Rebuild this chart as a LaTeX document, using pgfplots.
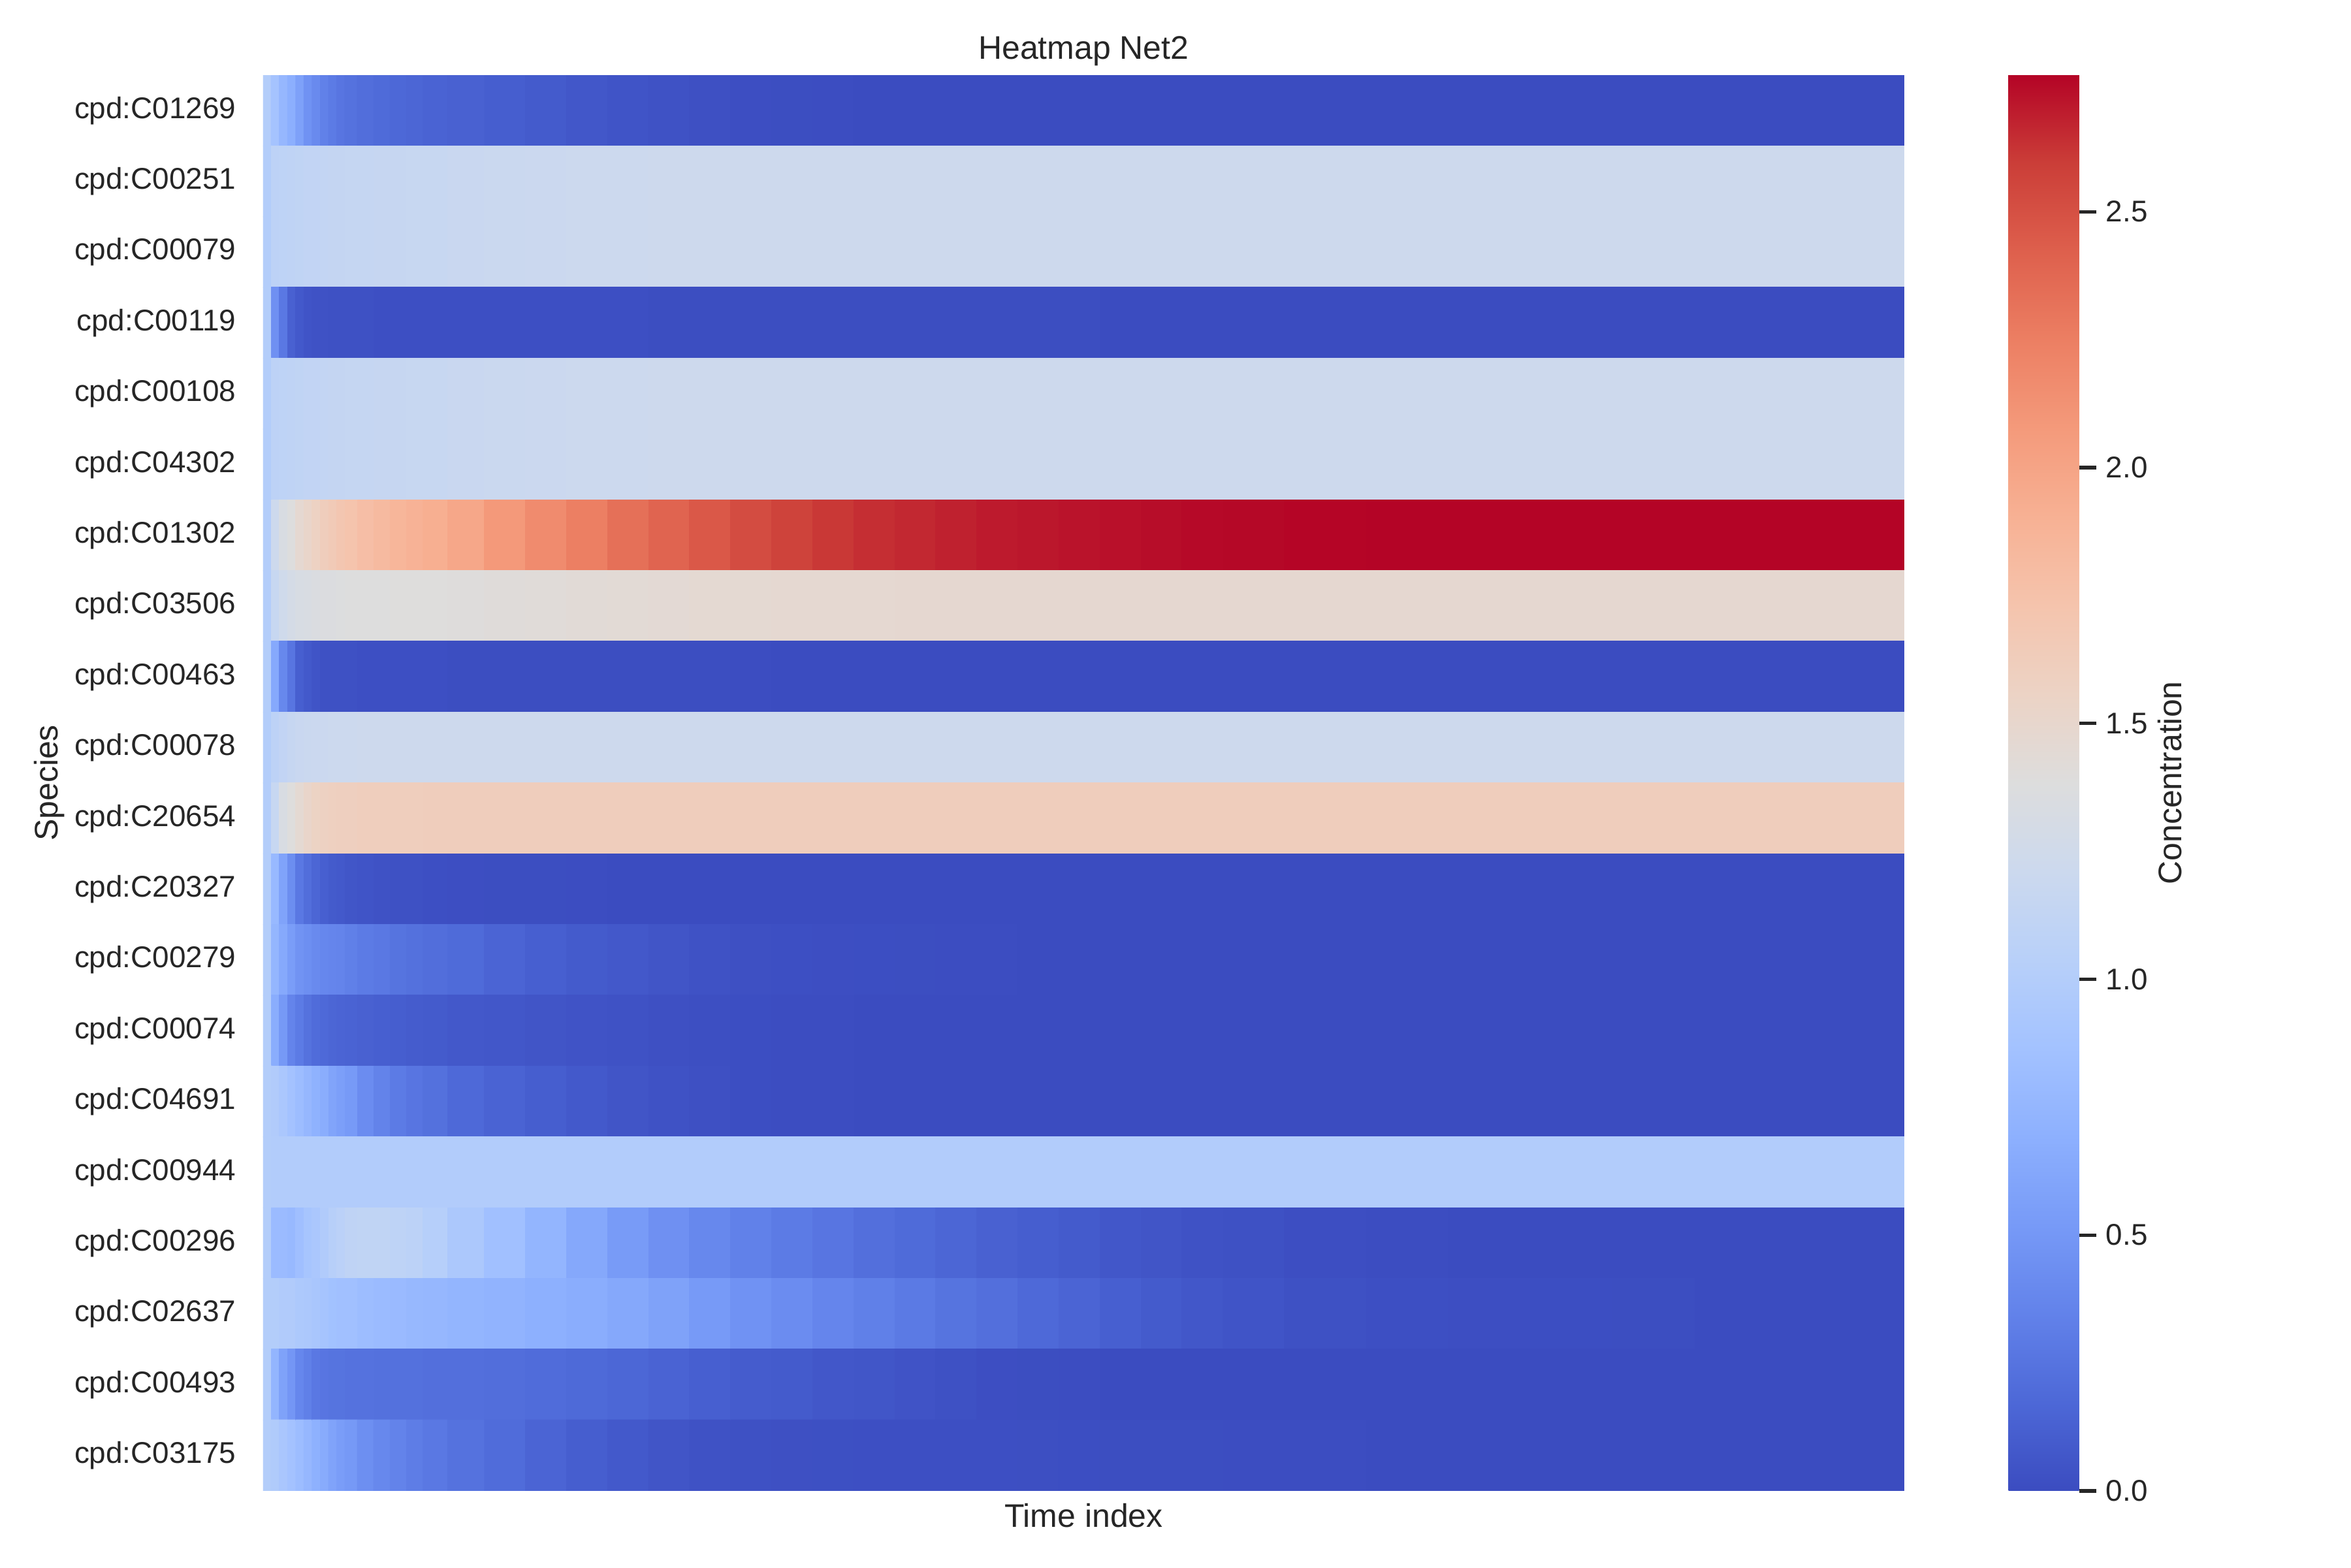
\documentclass[border=0pt]{standalone}
\usepackage{pgfplots}
\pgfplotsset{compat=1.18}
\usepackage{fontspec}
\setmainfont{Liberation Sans}
\definecolor{txt}{HTML}{262626}
\newcommand{\ticksize}{\fontsize{11}{13}\selectfont}
\newcommand{\labsize}{\fontsize{12}{14}\selectfont}
\pgfplotsset{
  colormap={coolwarm}{
    rgb255=(59,76,192) rgb255=(77,104,215) rgb255=(98,130,234) rgb255=(119,154,247)
    rgb255=(141,176,254) rgb255=(163,194,255) rgb255=(184,208,249) rgb255=(204,217,238)
    rgb255=(221,221,221) rgb255=(236,211,197) rgb255=(245,196,173) rgb255=(247,177,148)
    rgb255=(244,154,123) rgb255=(236,127,99) rgb255=(222,96,77) rgb255=(203,62,56)
    rgb255=(180,4,38)
  }
}
\begin{document}
\begin{tikzpicture}
\path[use as bounding box] (0,0) rectangle (864pt,576pt);
\begin{axis}[
  at={(96.7pt,28.1pt)}, anchor=south west,
  scale only axis, width=603.1pt, height=520.3pt,
  xmin=-0.5, xmax=199.5, ymin=-0.5, ymax=19.5,
  y dir=reverse,
  axis line style={draw=none},
  xtick=\empty,
  ytick={0,...,19},
  yticklabels={cpd:C01269,cpd:C00251,cpd:C00079,cpd:C00119,cpd:C00108,cpd:C04302,cpd:C01302,cpd:C03506,cpd:C00463,cpd:C00078,cpd:C20654,cpd:C20327,cpd:C00279,cpd:C00074,cpd:C04691,cpd:C00944,cpd:C00296,cpd:C02637,cpd:C00493,cpd:C03175},
  ytick style={draw=none},
  yticklabel style={anchor=east, inner sep=0pt, xshift=-9.8pt, font=\ticksize, text=txt},
  title={Heatmap Net2},
  title style={anchor=base, inner sep=0pt, font=\labsize, text=txt},
  xlabel={Time index},
  xlabel style={at={(axis description cs:0.5,0)}, anchor=north, inner sep=0pt, yshift=-4.5pt, font=\labsize, text=txt},
  ylabel={Species},
  ylabel style={at={(axis description cs:-0.1303,0.5)}, anchor=center, inner sep=0pt, font=\labsize, text=txt},
  colormap name=coolwarm,
  point meta min=0, point meta max=2.767,
  colorbar,
  colorbar/width=25.9pt,
  colorbar style={
    at={(parent axis.north east)}, anchor=north west, xshift=29.8pt,
    axis line style={draw=none},
    ytick={0,0.5,1,1.5,2,2.5},
    tick align=outside, major tick length=6.24pt,
    ytick style={line width=1.25pt, color=txt},
    ytick pos=right, yticklabel pos=right,
    yticklabel style={font=\ticksize, text=txt, inner sep=0pt, xshift=3.5pt,
      /pgf/number format/.cd, fixed, fixed zerofill, precision=1, assume math mode=true},
    ylabel={Concentration},
    ylabel style={at={(axis description cs:2.29,0.5)}, anchor=center, inner sep=0pt, font=\labsize, text=txt},
  },
]
% column 209 lies outside xmax and only repeats the last value, so that the
% last visible cell is an ordinary one
\addplot[matrix plot*, mesh/cols=45, point meta=explicit] table[row sep=\\, x=x, y=y, meta=c] {
x y c\\
0 0 1.0\\ 1 0 0.88\\ 2 0 0.76\\ 3 0 0.68\\ 4 0 0.57\\ 5 0 0.46\\ 6 0 0.40\\ 7 0 0.34\\ 8 0 0.30\\ 9 0 0.26\\ 10 0 0.24\\ 12 0 0.21\\ 14 0 0.19\\ 16 0 0.17\\ 18 0 0.16\\ 20 0 0.14\\ 24 0 0.13\\ 29 0 0.11\\ 34 0 0.09\\ 39 0 0.07\\ 44 0 0.05\\ 49 0 0.035\\ 54 0 0.025\\ 59 0 0.015\\ 64 0 0.01\\ 69 0 0.005\\ 74 0 0\\ 79 0 0\\ 84 0 0\\ 89 0 0\\ 94 0 0\\ 99 0 0\\ 104 0 0\\ 109 0 0\\ 114 0 0\\ 119 0 0\\ 129 0 0\\ 139 0 0\\ 149 0 0\\ 159 0 0\\ 169 0 0\\ 179 0 0\\ 189 0 0\\ 199 0 0\\ 209 0 0\\
0 1 1.0\\ 1 1 1.08\\ 2 1 1.09\\ 3 1 1.10\\ 4 1 1.11\\ 5 1 1.12\\ 6 1 1.12\\ 7 1 1.13\\ 8 1 1.14\\ 9 1 1.14\\ 10 1 1.15\\ 12 1 1.15\\ 14 1 1.16\\ 16 1 1.16\\ 18 1 1.17\\ 20 1 1.17\\ 24 1 1.18\\ 29 1 1.19\\ 34 1 1.20\\ 39 1 1.21\\ 44 1 1.21\\ 49 1 1.22\\ 54 1 1.22\\ 59 1 1.22\\ 64 1 1.22\\ 69 1 1.22\\ 74 1 1.22\\ 79 1 1.22\\ 84 1 1.22\\ 89 1 1.22\\ 94 1 1.22\\ 99 1 1.22\\ 104 1 1.22\\ 109 1 1.22\\ 114 1 1.22\\ 119 1 1.22\\ 129 1 1.22\\ 139 1 1.22\\ 149 1 1.22\\ 159 1 1.22\\ 169 1 1.22\\ 179 1 1.22\\ 189 1 1.22\\ 199 1 1.22\\ 209 1 1.22\\
0 2 1.0\\ 1 2 1.08\\ 2 2 1.09\\ 3 2 1.10\\ 4 2 1.11\\ 5 2 1.12\\ 6 2 1.12\\ 7 2 1.13\\ 8 2 1.14\\ 9 2 1.14\\ 10 2 1.15\\ 12 2 1.15\\ 14 2 1.16\\ 16 2 1.16\\ 18 2 1.17\\ 20 2 1.17\\ 24 2 1.18\\ 29 2 1.19\\ 34 2 1.20\\ 39 2 1.21\\ 44 2 1.21\\ 49 2 1.22\\ 54 2 1.22\\ 59 2 1.22\\ 64 2 1.22\\ 69 2 1.22\\ 74 2 1.22\\ 79 2 1.22\\ 84 2 1.22\\ 89 2 1.22\\ 94 2 1.22\\ 99 2 1.22\\ 104 2 1.22\\ 109 2 1.22\\ 114 2 1.22\\ 119 2 1.22\\ 129 2 1.22\\ 139 2 1.22\\ 149 2 1.22\\ 159 2 1.22\\ 169 2 1.22\\ 179 2 1.22\\ 189 2 1.22\\ 199 2 1.22\\ 209 2 1.22\\
0 3 1.0\\ 1 3 0.45\\ 2 3 0.28\\ 3 3 0.13\\ 4 3 0.08\\ 5 3 0.05\\ 6 3 0.04\\ 7 3 0.04\\ 8 3 0.03\\ 9 3 0.03\\ 10 3 0.03\\ 12 3 0.03\\ 14 3 0.02\\ 16 3 0.02\\ 18 3 0.02\\ 20 3 0.02\\ 24 3 0.02\\ 29 3 0.02\\ 34 3 0.02\\ 39 3 0.02\\ 44 3 0.02\\ 49 3 0.01\\ 54 3 0.01\\ 59 3 0.01\\ 64 3 0.01\\ 69 3 0.01\\ 74 3 0.01\\ 79 3 0.01\\ 84 3 0.01\\ 89 3 0.01\\ 94 3 0.01\\ 99 3 0.01\\ 104 3 0\\ 109 3 0\\ 114 3 0\\ 119 3 0\\ 129 3 0\\ 139 3 0\\ 149 3 0\\ 159 3 0\\ 169 3 0\\ 179 3 0\\ 189 3 0\\ 199 3 0\\ 209 3 0\\
0 4 1.0\\ 1 4 1.08\\ 2 4 1.09\\ 3 4 1.10\\ 4 4 1.11\\ 5 4 1.12\\ 6 4 1.12\\ 7 4 1.13\\ 8 4 1.14\\ 9 4 1.14\\ 10 4 1.15\\ 12 4 1.15\\ 14 4 1.16\\ 16 4 1.16\\ 18 4 1.17\\ 20 4 1.17\\ 24 4 1.18\\ 29 4 1.19\\ 34 4 1.20\\ 39 4 1.21\\ 44 4 1.21\\ 49 4 1.22\\ 54 4 1.22\\ 59 4 1.22\\ 64 4 1.22\\ 69 4 1.22\\ 74 4 1.22\\ 79 4 1.22\\ 84 4 1.22\\ 89 4 1.22\\ 94 4 1.22\\ 99 4 1.22\\ 104 4 1.22\\ 109 4 1.22\\ 114 4 1.22\\ 119 4 1.22\\ 129 4 1.22\\ 139 4 1.22\\ 149 4 1.22\\ 159 4 1.22\\ 169 4 1.22\\ 179 4 1.22\\ 189 4 1.22\\ 199 4 1.22\\ 209 4 1.22\\
0 5 1.0\\ 1 5 1.08\\ 2 5 1.09\\ 3 5 1.10\\ 4 5 1.11\\ 5 5 1.12\\ 6 5 1.12\\ 7 5 1.13\\ 8 5 1.14\\ 9 5 1.14\\ 10 5 1.15\\ 12 5 1.15\\ 14 5 1.16\\ 16 5 1.16\\ 18 5 1.17\\ 20 5 1.17\\ 24 5 1.18\\ 29 5 1.19\\ 34 5 1.20\\ 39 5 1.21\\ 44 5 1.21\\ 49 5 1.22\\ 54 5 1.22\\ 59 5 1.22\\ 64 5 1.22\\ 69 5 1.22\\ 74 5 1.22\\ 79 5 1.22\\ 84 5 1.22\\ 89 5 1.22\\ 94 5 1.22\\ 99 5 1.22\\ 104 5 1.22\\ 109 5 1.22\\ 114 5 1.22\\ 119 5 1.22\\ 129 5 1.22\\ 139 5 1.22\\ 149 5 1.22\\ 159 5 1.22\\ 169 5 1.22\\ 179 5 1.22\\ 189 5 1.22\\ 199 5 1.22\\ 209 5 1.22\\
0 6 1.0\\ 1 6 1.22\\ 2 6 1.33\\ 3 6 1.38\\ 4 6 1.47\\ 5 6 1.52\\ 6 6 1.57\\ 7 6 1.62\\ 8 6 1.66\\ 9 6 1.70\\ 10 6 1.73\\ 12 6 1.78\\ 14 6 1.82\\ 16 6 1.86\\ 18 6 1.89\\ 20 6 1.92\\ 24 6 1.98\\ 29 6 2.08\\ 34 6 2.17\\ 39 6 2.25\\ 44 6 2.33\\ 49 6 2.40\\ 54 6 2.46\\ 59 6 2.52\\ 64 6 2.57\\ 69 6 2.61\\ 74 6 2.64\\ 79 6 2.66\\ 84 6 2.68\\ 89 6 2.70\\ 94 6 2.71\\ 99 6 2.72\\ 104 6 2.73\\ 109 6 2.74\\ 114 6 2.75\\ 119 6 2.755\\ 129 6 2.762\\ 139 6 2.765\\ 149 6 2.767\\ 159 6 2.767\\ 169 6 2.767\\ 179 6 2.767\\ 189 6 2.767\\ 199 6 2.767\\ 209 6 2.767\\
0 7 1.0\\ 1 7 1.17\\ 2 7 1.24\\ 3 7 1.29\\ 4 7 1.32\\ 5 7 1.33\\ 6 7 1.35\\ 7 7 1.36\\ 8 7 1.36\\ 9 7 1.37\\ 10 7 1.38\\ 12 7 1.38\\ 14 7 1.38\\ 16 7 1.39\\ 18 7 1.39\\ 20 7 1.39\\ 24 7 1.40\\ 29 7 1.41\\ 34 7 1.42\\ 39 7 1.43\\ 44 7 1.44\\ 49 7 1.45\\ 54 7 1.46\\ 59 7 1.46\\ 64 7 1.47\\ 69 7 1.47\\ 74 7 1.47\\ 79 7 1.48\\ 84 7 1.48\\ 89 7 1.48\\ 94 7 1.48\\ 99 7 1.48\\ 104 7 1.48\\ 109 7 1.48\\ 114 7 1.48\\ 119 7 1.48\\ 129 7 1.48\\ 139 7 1.48\\ 149 7 1.48\\ 159 7 1.48\\ 169 7 1.48\\ 179 7 1.48\\ 189 7 1.48\\ 199 7 1.48\\ 209 7 1.48\\
0 8 1.0\\ 1 8 0.64\\ 2 8 0.39\\ 3 8 0.26\\ 4 8 0.12\\ 5 8 0.08\\ 6 8 0.05\\ 7 8 0.03\\ 8 8 0.03\\ 9 8 0.03\\ 10 8 0.03\\ 12 8 0.02\\ 14 8 0.02\\ 16 8 0.02\\ 18 8 0.02\\ 20 8 0.02\\ 24 8 0.01\\ 29 8 0.01\\ 34 8 0.01\\ 39 8 0.01\\ 44 8 0.01\\ 49 8 0.01\\ 54 8 0.01\\ 59 8 0.005\\ 64 8 0\\ 69 8 0\\ 74 8 0\\ 79 8 0\\ 84 8 0\\ 89 8 0\\ 94 8 0\\ 99 8 0\\ 104 8 0\\ 109 8 0\\ 114 8 0\\ 119 8 0\\ 129 8 0\\ 139 8 0\\ 149 8 0\\ 159 8 0\\ 169 8 0\\ 179 8 0\\ 189 8 0\\ 199 8 0\\ 209 8 0\\
0 9 1.0\\ 1 9 1.08\\ 2 9 1.12\\ 3 9 1.16\\ 4 9 1.18\\ 5 9 1.19\\ 6 9 1.20\\ 7 9 1.20\\ 8 9 1.21\\ 9 9 1.21\\ 10 9 1.21\\ 12 9 1.22\\ 14 9 1.22\\ 16 9 1.22\\ 18 9 1.22\\ 20 9 1.22\\ 24 9 1.22\\ 29 9 1.22\\ 34 9 1.22\\ 39 9 1.22\\ 44 9 1.22\\ 49 9 1.22\\ 54 9 1.22\\ 59 9 1.22\\ 64 9 1.22\\ 69 9 1.22\\ 74 9 1.22\\ 79 9 1.22\\ 84 9 1.22\\ 89 9 1.22\\ 94 9 1.22\\ 99 9 1.22\\ 104 9 1.22\\ 109 9 1.22\\ 114 9 1.22\\ 119 9 1.22\\ 129 9 1.22\\ 139 9 1.22\\ 149 9 1.22\\ 159 9 1.22\\ 169 9 1.22\\ 179 9 1.22\\ 189 9 1.22\\ 199 9 1.22\\ 209 9 1.22\\
0 10 1.0\\ 1 10 1.17\\ 2 10 1.33\\ 3 10 1.39\\ 4 10 1.46\\ 5 10 1.52\\ 6 10 1.56\\ 7 10 1.58\\ 8 10 1.59\\ 9 10 1.60\\ 10 10 1.60\\ 12 10 1.61\\ 14 10 1.61\\ 16 10 1.61\\ 18 10 1.61\\ 20 10 1.62\\ 24 10 1.62\\ 29 10 1.62\\ 34 10 1.62\\ 39 10 1.62\\ 44 10 1.62\\ 49 10 1.62\\ 54 10 1.62\\ 59 10 1.62\\ 64 10 1.62\\ 69 10 1.62\\ 74 10 1.62\\ 79 10 1.62\\ 84 10 1.62\\ 89 10 1.62\\ 94 10 1.62\\ 99 10 1.62\\ 104 10 1.62\\ 109 10 1.62\\ 114 10 1.62\\ 119 10 1.62\\ 129 10 1.62\\ 139 10 1.62\\ 149 10 1.62\\ 159 10 1.62\\ 169 10 1.62\\ 179 10 1.62\\ 189 10 1.62\\ 199 10 1.62\\ 209 10 1.62\\
0 11 1.0\\ 1 11 0.78\\ 2 11 0.59\\ 3 11 0.43\\ 4 11 0.28\\ 5 11 0.21\\ 6 11 0.16\\ 7 11 0.12\\ 8 11 0.09\\ 9 11 0.08\\ 10 11 0.06\\ 12 11 0.05\\ 14 11 0.04\\ 16 11 0.03\\ 18 11 0.03\\ 20 11 0.02\\ 24 11 0.015\\ 29 11 0.01\\ 34 11 0.01\\ 39 11 0.005\\ 44 11 0\\ 49 11 0\\ 54 11 0\\ 59 11 0\\ 64 11 0\\ 69 11 0\\ 74 11 0\\ 79 11 0\\ 84 11 0\\ 89 11 0\\ 94 11 0\\ 99 11 0\\ 104 11 0\\ 109 11 0\\ 114 11 0\\ 119 11 0\\ 129 11 0\\ 139 11 0\\ 149 11 0\\ 159 11 0\\ 169 11 0\\ 179 11 0\\ 189 11 0\\ 199 11 0\\ 209 11 0\\
0 12 1.0\\ 1 12 0.75\\ 2 12 0.64\\ 3 12 0.54\\ 4 12 0.47\\ 5 12 0.44\\ 6 12 0.40\\ 7 12 0.38\\ 8 12 0.37\\ 9 12 0.36\\ 10 12 0.33\\ 12 12 0.30\\ 14 12 0.28\\ 16 12 0.25\\ 18 12 0.23\\ 20 12 0.21\\ 24 12 0.19\\ 29 12 0.15\\ 34 12 0.12\\ 39 12 0.09\\ 44 12 0.075\\ 49 12 0.055\\ 54 12 0.035\\ 59 12 0.025\\ 64 12 0.02\\ 69 12 0.015\\ 74 12 0.012\\ 79 12 0.01\\ 84 12 0.008\\ 89 12 0.005\\ 94 12 0\\ 99 12 0\\ 104 12 0\\ 109 12 0\\ 114 12 0\\ 119 12 0\\ 129 12 0\\ 139 12 0\\ 149 12 0\\ 159 12 0\\ 169 12 0\\ 179 12 0\\ 189 12 0\\ 199 12 0\\ 209 12 0\\
0 13 1.0\\ 1 13 0.67\\ 2 13 0.51\\ 3 13 0.36\\ 4 13 0.30\\ 5 13 0.24\\ 6 13 0.20\\ 7 13 0.18\\ 8 13 0.16\\ 9 13 0.15\\ 10 13 0.14\\ 12 13 0.13\\ 14 13 0.12\\ 16 13 0.11\\ 18 13 0.10\\ 20 13 0.09\\ 24 13 0.075\\ 29 13 0.065\\ 34 13 0.055\\ 39 13 0.045\\ 44 13 0.035\\ 49 13 0.025\\ 54 13 0.017\\ 59 13 0.012\\ 64 13 0.008\\ 69 13 0.005\\ 74 13 0\\ 79 13 0\\ 84 13 0\\ 89 13 0\\ 94 13 0\\ 99 13 0\\ 104 13 0\\ 109 13 0\\ 114 13 0\\ 119 13 0\\ 129 13 0\\ 139 13 0\\ 149 13 0\\ 159 13 0\\ 169 13 0\\ 179 13 0\\ 189 13 0\\ 199 13 0\\ 209 13 0\\
0 14 1.0\\ 1 14 0.98\\ 2 14 0.93\\ 3 14 0.87\\ 4 14 0.82\\ 5 14 0.76\\ 6 14 0.71\\ 7 14 0.67\\ 8 14 0.60\\ 9 14 0.56\\ 10 14 0.52\\ 12 14 0.42\\ 14 14 0.35\\ 16 14 0.30\\ 18 14 0.26\\ 20 14 0.23\\ 24 14 0.18\\ 29 14 0.14\\ 34 14 0.11\\ 39 14 0.08\\ 44 14 0.055\\ 49 14 0.04\\ 54 14 0.025\\ 59 14 0.012\\ 64 14 0.008\\ 69 14 0.005\\ 74 14 0\\ 79 14 0\\ 84 14 0\\ 89 14 0\\ 94 14 0\\ 99 14 0\\ 104 14 0\\ 109 14 0\\ 114 14 0\\ 119 14 0\\ 129 14 0\\ 139 14 0\\ 149 14 0\\ 159 14 0\\ 169 14 0\\ 179 14 0\\ 189 14 0\\ 199 14 0\\ 209 14 0\\
0 15 1.0\\ 1 15 0.99\\ 2 15 0.99\\ 3 15 0.99\\ 4 15 0.99\\ 5 15 0.99\\ 6 15 0.99\\ 7 15 0.99\\ 8 15 0.99\\ 9 15 0.99\\ 10 15 0.99\\ 12 15 0.99\\ 14 15 0.99\\ 16 15 0.99\\ 18 15 0.99\\ 20 15 0.99\\ 24 15 0.99\\ 29 15 0.99\\ 34 15 0.99\\ 39 15 0.99\\ 44 15 0.99\\ 49 15 0.99\\ 54 15 0.99\\ 59 15 0.99\\ 64 15 0.99\\ 69 15 0.99\\ 74 15 0.99\\ 79 15 0.99\\ 84 15 0.99\\ 89 15 0.99\\ 94 15 0.99\\ 99 15 0.99\\ 104 15 0.99\\ 109 15 0.99\\ 114 15 0.99\\ 119 15 0.99\\ 129 15 0.99\\ 139 15 0.99\\ 149 15 0.99\\ 159 15 0.99\\ 169 15 0.99\\ 179 15 0.99\\ 189 15 0.99\\ 199 15 0.99\\ 209 15 0.99\\
0 16 1.0\\ 1 16 0.80\\ 2 16 0.80\\ 3 16 0.78\\ 4 16 0.84\\ 5 16 0.90\\ 6 16 0.93\\ 7 16 0.98\\ 8 16 1.03\\ 9 16 1.06\\ 10 16 1.10\\ 12 16 1.11\\ 14 16 1.11\\ 16 16 1.09\\ 18 16 1.07\\ 20 16 1.02\\ 24 16 0.94\\ 29 16 0.85\\ 34 16 0.74\\ 39 16 0.63\\ 44 16 0.53\\ 49 16 0.45\\ 54 16 0.39\\ 59 16 0.34\\ 64 16 0.30\\ 69 16 0.26\\ 74 16 0.22\\ 79 16 0.19\\ 84 16 0.16\\ 89 16 0.13\\ 94 16 0.11\\ 99 16 0.09\\ 104 16 0.07\\ 109 16 0.055\\ 114 16 0.04\\ 119 16 0.03\\ 129 16 0.015\\ 139 16 0.006\\ 149 16 0\\ 159 16 0\\ 169 16 0\\ 179 16 0\\ 189 16 0\\ 199 16 0\\ 209 16 0\\
0 17 1.0\\ 1 17 1.0\\ 2 17 0.98\\ 3 17 0.98\\ 4 17 0.95\\ 5 17 0.94\\ 6 17 0.91\\ 7 17 0.89\\ 8 17 0.86\\ 9 17 0.85\\ 10 17 0.85\\ 12 17 0.82\\ 14 17 0.80\\ 16 17 0.79\\ 18 17 0.77\\ 20 17 0.76\\ 24 17 0.74\\ 29 17 0.72\\ 34 17 0.69\\ 39 17 0.67\\ 44 17 0.63\\ 49 17 0.58\\ 54 17 0.52\\ 59 17 0.46\\ 64 17 0.42\\ 69 17 0.37\\ 74 17 0.33\\ 79 17 0.29\\ 84 17 0.25\\ 89 17 0.22\\ 94 17 0.18\\ 99 17 0.15\\ 104 17 0.12\\ 109 17 0.09\\ 114 17 0.07\\ 119 17 0.05\\ 129 17 0.03\\ 139 17 0.02\\ 149 17 0.015\\ 159 17 0.012\\ 169 17 0.01\\ 179 17 0\\ 189 17 0\\ 199 17 0\\ 209 17 0\\
0 18 1.0\\ 1 18 0.74\\ 2 18 0.58\\ 3 18 0.49\\ 4 18 0.38\\ 5 18 0.33\\ 6 18 0.28\\ 7 18 0.26\\ 8 18 0.25\\ 9 18 0.25\\ 10 18 0.24\\ 12 18 0.24\\ 14 18 0.23\\ 16 18 0.23\\ 18 18 0.23\\ 20 18 0.22\\ 24 18 0.22\\ 29 18 0.21\\ 34 18 0.20\\ 39 18 0.185\\ 44 18 0.165\\ 49 18 0.14\\ 54 18 0.12\\ 59 18 0.10\\ 64 18 0.09\\ 69 18 0.07\\ 74 18 0.06\\ 79 18 0.045\\ 84 18 0.03\\ 89 18 0.015\\ 94 18 0.01\\ 99 18 0.005\\ 104 18 0\\ 109 18 0\\ 114 18 0\\ 119 18 0\\ 129 18 0\\ 139 18 0\\ 149 18 0\\ 159 18 0\\ 169 18 0\\ 179 18 0\\ 189 18 0\\ 199 18 0\\ 209 18 0\\
0 19 1.0\\ 1 19 0.97\\ 2 19 0.92\\ 3 19 0.87\\ 4 19 0.82\\ 5 19 0.76\\ 6 19 0.70\\ 7 19 0.65\\ 8 19 0.59\\ 9 19 0.54\\ 10 19 0.51\\ 12 19 0.44\\ 14 19 0.39\\ 16 19 0.35\\ 18 19 0.31\\ 20 19 0.28\\ 24 19 0.24\\ 29 19 0.20\\ 34 19 0.15\\ 39 19 0.11\\ 44 19 0.08\\ 49 19 0.055\\ 54 19 0.035\\ 59 19 0.028\\ 64 19 0.025\\ 69 19 0.022\\ 74 19 0.02\\ 79 19 0.02\\ 84 19 0.02\\ 89 19 0.02\\ 94 19 0.018\\ 99 19 0.012\\ 104 19 0.01\\ 109 19 0.01\\ 114 19 0.01\\ 119 19 0.008\\ 129 19 0.005\\ 139 19 0\\ 149 19 0\\ 159 19 0\\ 169 19 0\\ 179 19 0\\ 189 19 0\\ 199 19 0\\ 209 19 0\\
};
\end{axis}
\end{tikzpicture}
\end{document}
